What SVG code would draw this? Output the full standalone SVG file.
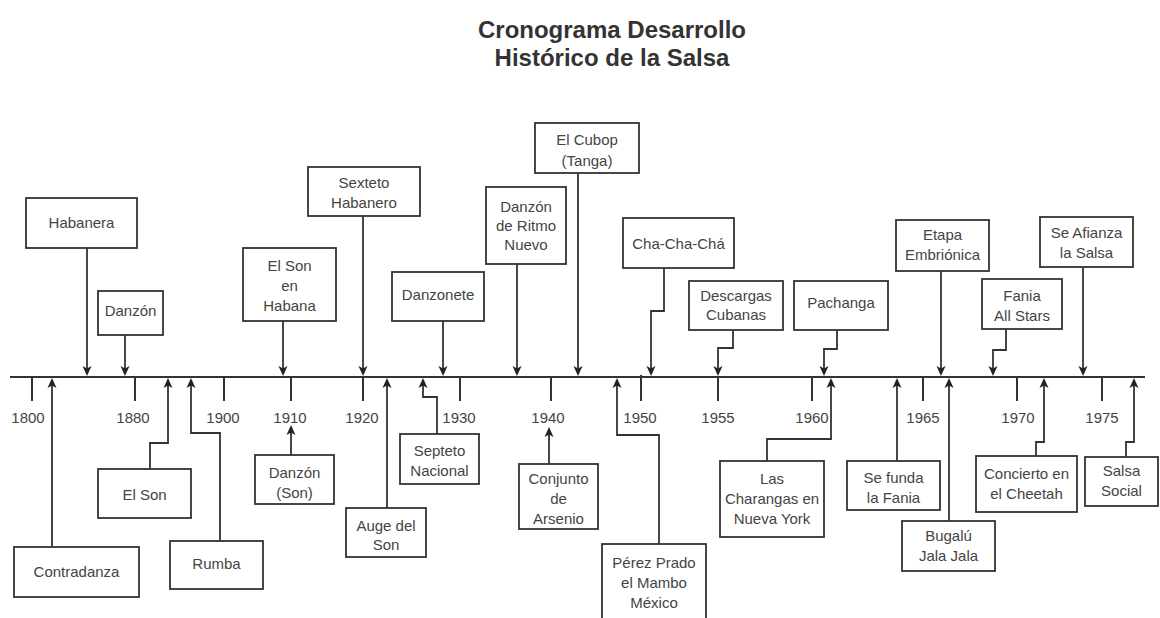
<svg xmlns="http://www.w3.org/2000/svg" width="1160" height="618" viewBox="0 0 1160 618">
<style>
.bx{fill:#fff;stroke:#333;stroke-width:1.8}
.t{font-family:"Liberation Sans",Arial,sans-serif;font-size:15px;fill:#444;text-anchor:middle}
.y{font-family:"Liberation Sans",Arial,sans-serif;font-size:15px;fill:#444;text-anchor:middle}
.ttl{font-family:"Liberation Sans",Arial,sans-serif;font-size:24px;font-weight:bold;fill:#333;text-anchor:middle}
.c{fill:none;stroke:#333;stroke-width:1.8;marker-end:url(#ah)}
.ax{fill:none;stroke:#333;stroke-width:2}
</style>
<defs>
<marker id="ah" viewBox="-10 -5 10 10" refX="-3" refY="0" markerWidth="10" markerHeight="10" markerUnits="userSpaceOnUse" orient="auto">
<path d="M0,0 L-10,-4.5 L-7.5,0 L-10,4.5 z" fill="#222"/>
</marker>
</defs>
<rect width="1160" height="618" fill="#fff"/>
<g id="title">
<text class="ttl" x="612" y="38">Cronograma Desarrollo</text>
<text class="ttl" x="612" y="66">Histórico de la Salsa</text>
</g>
<g id="axis">
<line class="ax" x1="10" y1="377" x2="1145" y2="377"/>
<path class="ax" d="M32,377V401M135,377V401M224,377V401M291,377V401M363,377V401M460,377V401M551,377V401M641,375V401M718,377V401M812,376V401M923,377V401M1017,377V401M1102,377V401"/>
<text class="y" x="28" y="423">1800</text>
<text class="y" x="133" y="423">1880</text>
<text class="y" x="223" y="423">1900</text>
<text class="y" x="290" y="423">1910</text>
<text class="y" x="362" y="423">1920</text>
<text class="y" x="459" y="423">1930</text>
<text class="y" x="548" y="423">1940</text>
<text class="y" x="640" y="423">1950</text>
<text class="y" x="718" y="423">1955</text>
<text class="y" x="812" y="423">1960</text>
<text class="y" x="923" y="423">1965</text>
<text class="y" x="1018" y="423">1970</text>
<text class="y" x="1102" y="423">1975</text>
</g>
<g id="connectors">
<path class="c" d="M87,248V373"/>
<path class="c" d="M125,335V373"/>
<path class="c" d="M283,321V373"/>
<path class="c" d="M363,216V373"/>
<path class="c" d="M443,321V373"/>
<path class="c" d="M517,264V373"/>
<path class="c" d="M578,173V373"/>
<path class="c" d="M664,268V311H651V373"/>
<path class="c" d="M733,330V348H718V373"/>
<path class="c" d="M837,330V349H824V373"/>
<path class="c" d="M941,271V373"/>
<path class="c" d="M1006,329V350H993V373"/>
<path class="c" d="M1083,267V373"/>
<path class="c" d="M52,547V381"/>
<path class="c" d="M150,469V443H168V381"/>
<path class="c" d="M220,541V433H191V381"/>
<path class="c" d="M291,455V428"/>
<path class="c" d="M387,508V381"/>
<path class="c" d="M437,434V397H423V381"/>
<path class="c" d="M549,464V430"/>
<path class="c" d="M659,544V435H617V381"/>
<path class="c" d="M767,461V439H831V381"/>
<path class="c" d="M897,461V381"/>
<path class="c" d="M949,521V381"/>
<path class="c" d="M1036,456V442H1044V381"/>
<path class="c" d="M1126,457V442H1134V381"/>
</g>
<g id="habanera"><rect class="bx" x="26" y="198" width="111" height="50"/><text class="t" x="81.5" y="227.5">Habanera</text></g>
<g id="danzon"><rect class="bx" x="98" y="291" width="65" height="44"/><text class="t" x="130.5" y="315.5">Danzón</text></g>
<g id="elson-habana"><rect class="bx" x="243" y="248" width="93" height="73"/><text class="t" x="289.5" y="270.5">El Son</text><text class="t" x="289.5" y="290.5">en</text><text class="t" x="289.5" y="310.5">Habana</text></g>
<g id="sexteto"><rect class="bx" x="308" y="167" width="112" height="49"/><text class="t" x="364" y="187.5">Sexteto</text><text class="t" x="364" y="207.5">Habanero</text></g>
<g id="danzonete"><rect class="bx" x="392" y="272" width="92" height="49"/><text class="t" x="438" y="300">Danzonete</text></g>
<g id="ritmo-nuevo"><rect class="bx" x="486" y="187" width="80" height="77"/><text class="t" x="526" y="211.5">Danzón</text><text class="t" x="526" y="230.5">de Ritmo</text><text class="t" x="526" y="249.5">Nuevo</text></g>
<g id="cubop"><rect class="bx" x="535" y="123" width="104" height="50"/><text class="t" x="587" y="144.5">El Cubop</text><text class="t" x="587" y="165.5">(Tanga)</text></g>
<g id="chachacha"><rect class="bx" x="623" y="218" width="111" height="50"/><text class="t" x="678.5" y="248.5">Cha-Cha-Chá</text></g>
<g id="descargas"><rect class="bx" x="689" y="281" width="94" height="49"/><text class="t" x="736" y="300.5">Descargas</text><text class="t" x="736" y="319.5">Cubanas</text></g>
<g id="pachanga"><rect class="bx" x="794" y="281" width="94" height="49"/><text class="t" x="841" y="307.5">Pachanga</text></g>
<g id="embrionica"><rect class="bx" x="896" y="220" width="93" height="51"/><text class="t" x="942.5" y="239.5">Etapa</text><text class="t" x="942.5" y="259.5">Embriónica</text></g>
<g id="fania-allstars"><rect class="bx" x="982" y="279" width="80" height="50"/><text class="t" x="1022" y="300.5">Fania</text><text class="t" x="1022" y="320.5">All Stars</text></g>
<g id="afianza"><rect class="bx" x="1040" y="217" width="93" height="50"/><text class="t" x="1086.5" y="237.5">Se Afianza</text><text class="t" x="1086.5" y="257.5">la Salsa</text></g>
<g id="contradanza"><rect class="bx" x="14" y="547" width="125" height="50"/><text class="t" x="76.5" y="576.5">Contradanza</text></g>
<g id="elson"><rect class="bx" x="98" y="469" width="93" height="49"/><text class="t" x="144.5" y="499.5">El Son</text></g>
<g id="rumba"><rect class="bx" x="170" y="541" width="93" height="48"/><text class="t" x="216.5" y="568.5">Rumba</text></g>
<g id="danzon-son"><rect class="bx" x="255" y="455" width="79" height="49"/><text class="t" x="294.5" y="477.5">Danzón</text><text class="t" x="294.5" y="497.5">(Son)</text></g>
<g id="auge"><rect class="bx" x="346" y="508" width="80" height="49"/><text class="t" x="386" y="530.5">Auge del</text><text class="t" x="386" y="549.5">Son</text></g>
<g id="septeto"><rect class="bx" x="400" y="434" width="79" height="50"/><text class="t" x="439.5" y="455.5">Septeto</text><text class="t" x="439.5" y="475.5">Nacional</text></g>
<g id="arsenio"><rect class="bx" x="519" y="464" width="79" height="65"/><text class="t" x="558.5" y="483.5">Conjunto</text><text class="t" x="558.5" y="503.5">de</text><text class="t" x="558.5" y="523.5">Arsenio</text></g>
<g id="perez-prado"><rect class="bx" x="602" y="544" width="104" height="84"/><text class="t" x="654" y="567.5">Pérez Prado</text><text class="t" x="654" y="587.5">el Mambo</text><text class="t" x="654" y="607.5">México</text></g>
<g id="charangas"><rect class="bx" x="720" y="461" width="104" height="76"/><text class="t" x="772" y="483.5">Las</text><text class="t" x="772" y="503.5">Charangas en</text><text class="t" x="772" y="523.5">Nueva York</text></g>
<g id="funda-fania"><rect class="bx" x="847" y="461" width="93" height="49"/><text class="t" x="893.5" y="482.5">Se funda</text><text class="t" x="893.5" y="502.5">la Fania</text></g>
<g id="bugalu"><rect class="bx" x="902" y="521" width="93" height="50"/><text class="t" x="948.5" y="540.5">Bugalú</text><text class="t" x="948.5" y="560.5">Jala Jala</text></g>
<g id="cheetah"><rect class="bx" x="976" y="456" width="101" height="56"/><text class="t" x="1026.5" y="478.5">Concierto en</text><text class="t" x="1026.5" y="498.5">el Cheetah</text></g>
<g id="salsa-social"><rect class="bx" x="1085" y="457" width="73" height="49"/><text class="t" x="1121.5" y="475.5">Salsa</text><text class="t" x="1121.5" y="495.5">Social</text></g>
</svg>
